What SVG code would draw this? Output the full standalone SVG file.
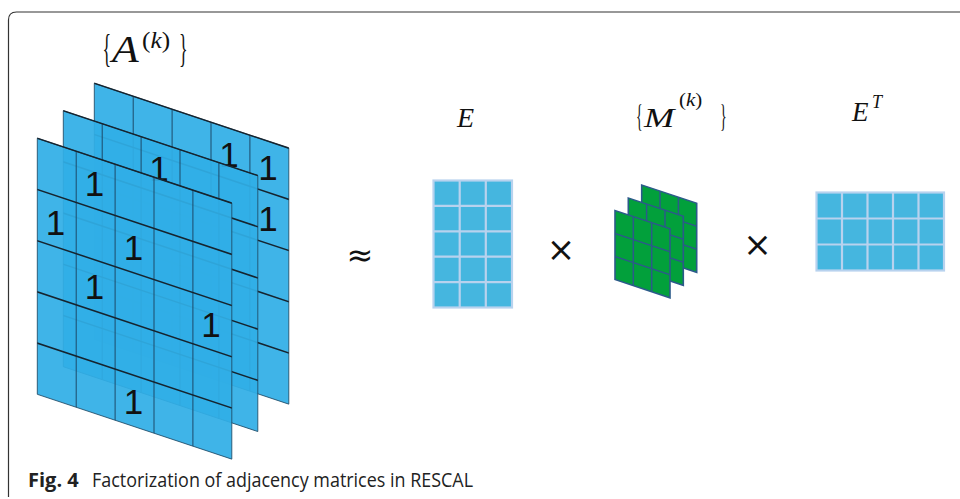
<svg xmlns="http://www.w3.org/2000/svg" width="960" height="499" viewBox="0 0 960 499">
<style>
.math{font-family:"Liberation Serif",serif;fill:#111}
.mi{font-family:"Liberation Serif",serif;font-style:italic;fill:#111}
.one{font-family:"Liberation Sans",Arial,sans-serif;font-size:35px;fill:#111;text-anchor:middle}
.pfill{fill:#30aee6;fill-opacity:0.93;stroke:#1f4a66;stroke-width:0.8}
.hl{stroke:#16242f;stroke-width:1.6}
.vl{stroke:#1d4a6a;stroke-width:1}
.gfill{fill:#02a03b;stroke:#2c5a8a;stroke-width:1.6}
.gl{stroke:#2c5a8a;stroke-width:1.5}
.efill{fill:#45b6df;stroke:#b8d2ee;stroke-width:2.2}
.el{stroke:#b8d2ee;stroke-width:2.2}
.op{font-family:"DejaVu Sans",sans-serif;fill:#111;text-anchor:middle}
.cap{font-family:"Open Sans",sans-serif;fill:#222}
</style>
<defs>
<g id="bigpanel">
<rect class="pfill" x="0" y="0" width="194.5" height="256"/>
<path class="vl" d="M38.9 0V256M77.8 0V256M116.7 0V256M155.6 0V256"/>
<path class="hl" d="M0 0H194.5M0 51.2H194.5M0 102.4H194.5M0 153.6H194.5M0 204.8H194.5"/>
</g>
<g id="gpanel">
<rect class="gfill" x="0" y="0" width="55" height="69"/>
<path class="gl" d="M18.3 0V69M36.7 0V69M0 23H55M0 46H55"/>
</g>
</defs>

<g id="frame">
<path d="M8.5 497V20Q8.5 12 16.5 12H960" fill="none" stroke="#333" stroke-width="1.2"/>
</g>

<g id="tensorA">
<g transform="translate(94.3,83.3) skewY(18.435)"><use href="#bigpanel"/></g>
<text class="one" x="229" y="167">1</text>
<text class="one" x="268" y="180">1</text>
<text class="one" x="268" y="231">1</text>
<g transform="translate(63.3,110.7) skewY(18.435)"><use href="#bigpanel"/></g>
<text class="one" x="159" y="181">1</text>
<g transform="translate(37.3,138.3) skewY(18.435)"><use href="#bigpanel"/></g>
<text class="one" x="94.5" y="196">1</text>
<text class="one" x="55.5" y="235">1</text>
<text class="one" x="133.5" y="260">1</text>
<text class="one" x="94.5" y="299">1</text>
<text class="one" x="211" y="337">1</text>
<text class="one" x="133.5" y="414">1</text>
</g>
<g id="labelA">
<text class="math" font-size="40" transform="translate(102.5,62) scale(0.45,1)">{</text>
<text class="mi" font-size="39" transform="translate(112,62) scale(1.12,1)">A</text>
<text class="math" font-size="23" transform="translate(142,48) scale(1.1,1)">(<tspan class="mi">k</tspan>)</text>
<text class="math" font-size="40" transform="translate(179,62) scale(0.45,1)">}</text>
</g>

<g id="approx"><text class="op" font-size="32" x="360" y="266">≈</text></g>

<g id="matE">
<rect class="efill" x="433.5" y="180.5" width="78.5" height="127"/>
<path class="el" d="M459.7 180.5V307.5M485.8 180.5V307.5M433.5 205.9H512M433.5 231.3H512M433.5 256.7H512M433.5 282.1H512"/>
</g>
<g id="labelE"><text class="mi" font-size="28" x="457" y="127">E</text></g>

<g id="times1"><text class="op" font-size="34" x="561" y="261">×</text></g>

<g id="tensorM">
<g transform="translate(641.7,185) skewY(18.435)"><use href="#gpanel"/></g>
<g transform="translate(628.3,198) skewY(18.435)"><use href="#gpanel"/></g>
<g transform="translate(615,210.5) skewY(18.435)"><use href="#gpanel"/></g>
</g>
<g id="labelM">
<text class="math" font-size="31" transform="translate(636,127) scale(0.45,1)">{</text>
<text class="mi" font-size="28" transform="translate(644,127) scale(1.3,1)">M</text>
<text class="math" font-size="19" transform="translate(679,106) scale(1.1,1)">(<tspan class="mi">k</tspan>)</text>
<text class="math" font-size="31" transform="translate(720,127) scale(0.45,1)">}</text>
</g>

<g id="times2"><text class="op" font-size="34" x="757.5" y="256">×</text></g>

<g id="matET">
<rect class="efill" x="816.5" y="192.5" width="127.5" height="78"/>
<path class="el" d="M842 192.5V270.5M867.5 192.5V270.5M893 192.5V270.5M918.5 192.5V270.5M816.5 218.5H944M816.5 244.5H944"/>
</g>
<g id="labelET">
<text class="mi" font-size="27" x="852" y="121">E</text>
<text class="mi" font-size="18" x="872" y="108">T</text>
</g>

<g id="caption">
<text class="cap" x="28" y="487"><tspan font-weight="bold" font-size="20">Fig. 4</tspan></text>
<text class="cap" x="92" y="487" font-size="19.5" textLength="381" lengthAdjust="spacingAndGlyphs">Factorization of adjacency matrices in RESCAL</text>
</g>
</svg>
